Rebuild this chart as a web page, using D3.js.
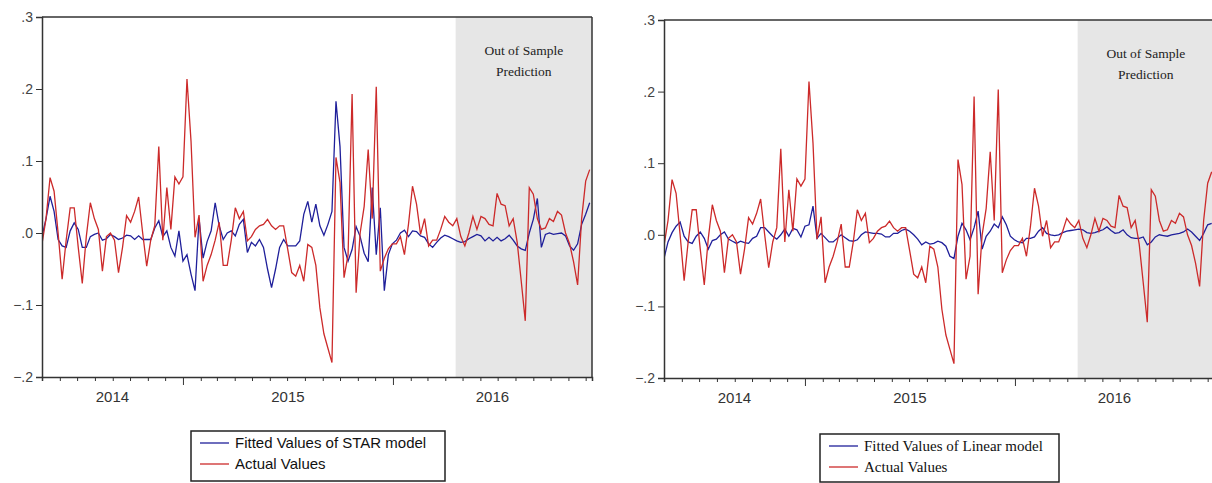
<!DOCTYPE html>
<html>
<head>
<meta charset="utf-8">
<script src="https://cdn.jsdelivr.net/npm/d3@7"></script>
<style>
  body { margin: 0; background: #fff; }
  svg { display: block; }
</style>
</head>
<body>
<div id="chart"></div>
<script>
// weekly series, first week starts 1 May 2014
var startDate = new Date(2014, 4, 1);
var endDate = new Date(2016, 11, 12);
var forecastStart = new Date(2016, 3, 19);

var yTicks = [0.3, 0.2, 0.1, 0, -0.1, -0.2];
var years = [2014, 2015, 2016];
var forecastLabel = ["Out of Sample", "Prediction"];

var actualValues = [
  -0.015, 0.02, 0.077, 0.058, 0.0, -0.064, -0.01, 0.035, 0.035, -0.02,
  -0.07, -0.005, 0.042, 0.02, 0.005, -0.053, -0.005, 0.0, -0.01, -0.055,
  -0.02, 0.024, 0.015, 0.03, 0.05, 0.0, -0.046, -0.01, 0.01, 0.12,
  -0.01, 0.063, 0.005, 0.078, 0.068, 0.078, 0.214, 0.128, -0.006, 0.025,
  -0.067, -0.045, -0.03, -0.01, 0.015, -0.045, -0.045, -0.01, 0.035, 0.02,
  0.03, -0.011, -0.005, 0.005, 0.01, 0.012, 0.019, 0.01, 0.005, 0.01,
  0.01, -0.022, -0.055, -0.06, -0.045, -0.067, -0.016, -0.02, -0.045, -0.104,
  -0.14, -0.16, -0.18, 0.105, 0.07, -0.062, -0.03, 0.193, -0.083, 0.0,
  0.037, 0.116, 0.02, 0.203, -0.053, -0.035, -0.022, -0.015, -0.015, -0.005,
  -0.03, 0.012, 0.065, 0.04, -0.002, 0.02, -0.018, -0.01, -0.01, 0.005,
  0.023, 0.015, 0.01, 0.02, -0.005, -0.018, 0.0, 0.023, 0.005, 0.023,
  0.02, 0.012, 0.01, 0.055, 0.04, 0.038, 0.01, 0.02, -0.013, -0.067,
  -0.122, 0.063, 0.054, 0.02, 0.005, 0.007, 0.02, 0.016, 0.03, 0.025,
  0.0, -0.015, -0.04, -0.072, 0.02, 0.072, 0.088
];

var starFitted = [
  -0.005, 0.02, 0.051, 0.03, -0.009, -0.018, -0.02, 0.003, 0.014, 0.005,
  -0.02, -0.02, -0.005, -0.002, 0.0, -0.01, -0.008, -0.002, -0.005, -0.009,
  -0.007, -0.003, -0.004, -0.009, -0.004, -0.009, -0.009, -0.009, 0.007, 0.017,
  -0.005, 0.003, -0.02, -0.032, 0.003, -0.039, -0.03, -0.057, -0.08, 0.02,
  -0.035, -0.012, 0.003, 0.042, 0.01, -0.009, 0.0, 0.003, -0.004, 0.012,
  0.019, -0.027, -0.013, -0.018, -0.009, -0.02, -0.05, -0.076, -0.05, -0.02,
  -0.009, -0.018, -0.018, -0.018, -0.011, 0.026, 0.044, 0.015, 0.04, 0.01,
  -0.003, 0.012, 0.03, 0.183, 0.12, -0.02, -0.039, -0.023, 0.009, -0.005,
  -0.028, -0.04, 0.063, -0.03, 0.035, -0.08, -0.03, -0.015, -0.01, 0.0,
  0.004, -0.005, 0.003, 0.002, -0.004, -0.006, -0.015, -0.02, -0.013, -0.007,
  -0.003, -0.005, -0.008, -0.011, -0.013, -0.012, -0.008, -0.005, -0.002, -0.004,
  -0.011, -0.006, -0.011, -0.006, -0.011, -0.008, -0.003, -0.01, -0.018, -0.022,
  -0.024, 0.0, 0.019, 0.048, -0.02, -0.002, 0.0, -0.002, -0.001, 0.0,
  -0.004, -0.018, -0.024, -0.015, 0.012, 0.026, 0.042
];

var linearFitted = [
  -0.033, -0.01, 0.003, 0.012, 0.018, -0.002, -0.01, -0.012, -0.002, 0.004,
  -0.005, -0.02, -0.008, -0.006, 0.0, 0.004, -0.006, -0.009, -0.012, -0.009,
  -0.011, -0.012, -0.005, -0.002, 0.01, 0.01, 0.004, -0.002, -0.006, 0.0,
  0.008, -0.002, 0.009, 0.007, -0.003, 0.012, 0.014, 0.04, -0.005, 0.002,
  -0.004, -0.01, -0.01, -0.005, 0.0, -0.004, -0.008, -0.009, -0.007, 0.0,
  0.004, 0.003, 0.002, 0.002, 0.001, -0.003, -0.003, 0.002, 0.002, 0.006,
  0.008, 0.005, 0.0, -0.006, -0.014, -0.01, -0.013, -0.012, -0.009, -0.011,
  -0.016, -0.03, -0.033, -0.002, 0.016, 0.007, -0.007, 0.01, 0.033, -0.02,
  -0.002, 0.005, 0.015, 0.01, 0.025, 0.014, -0.002, -0.007, -0.01, -0.011,
  -0.005, -0.005, -0.003, 0.005, 0.01, 0.002, 0.0, -0.001, 0.0, 0.003,
  0.005, 0.006, 0.007, 0.008, 0.007, 0.003, 0.002, 0.003, 0.005, 0.007,
  0.011, 0.006, 0.002, 0.003, 0.007, 0.0, -0.004, -0.005, -0.005, -0.003,
  -0.014, -0.01, -0.003, 0.0, -0.001, -0.002, 0.0, 0.001, 0.002, 0.004,
  0.008, 0.004, -0.002, -0.008, 0.002, 0.014, 0.016
];

var weeks = actualValues.map(function (d, i) { return d3.timeWeek.offset(startDate, i); });

var blue = "#1f1f9a", red = "#cc2a2a";

var panels = [
  {left: 42, top: 17, width: 550, height: 360, fitted: starFitted,
   legend: {x: 191, y: 431, w: 254, h: 50, font: "'Liberation Sans', Arial, sans-serif", size: 15,
            labels: ["Fitted Values of STAR model", "Actual Values"]}},
  {left: 664, top: 20, width: 550, height: 358, fitted: linearFitted,
   legend: {x: 820, y: 434, w: 239, h: 48, font: "'Liberation Serif', 'Times New Roman', serif", size: 15,
            labels: ["Fitted Values of Linear model", "Actual Values"]}}
];

var svg = d3.select("#chart").append("svg")
    .attr("width", 1212)
    .attr("height", 483);

function fmtY(d) {
    if (d === 0) return ".0";
    return d3.format(".1f")(d).replace("0.", ".");
}

panels.forEach(function (p, k) {
    var x = d3.scaleTime().domain([startDate, endDate]).range([0, p.width]);
    var y = d3.scaleLinear().domain([-0.2, 0.3]).range([p.height, 0]);

    var g = svg.append("g")
        .attr("transform", "translate(" + p.left + "," + p.top + ")");

    var clipId = "clip" + k;
    g.append("clipPath").attr("id", clipId)
        .append("rect").attr("width", p.width).attr("height", p.height);

    // shaded forecast area
    g.append("rect")
        .attr("x", x(forecastStart))
        .attr("y", 0)
        .attr("width", p.width - x(forecastStart))
        .attr("height", p.height)
        .style("fill", "#e6e6e6");

    g.selectAll("text.oos")
        .data(forecastLabel)
        .enter().append("text")
        .attr("x", (x(forecastStart) + p.width) / 2)
        .attr("y", function (d, i) { return 38 + i * 21; })
        .attr("text-anchor", "middle")
        .style("font-family", "'Liberation Serif', 'Times New Roman', serif")
        .style("font-size", "13.5px")
        .style("fill", "#222")
        .text(function (d) { return d; });

    var line = d3.line()
        .x(function (d, i) { return x(weeks[i]); })
        .y(function (d) { return y(d); });

    var lines = g.append("g").attr("clip-path", "url(#" + clipId + ")");
    lines.append("path")
        .datum(p.fitted)
        .attr("d", line)
        .style("fill", "none")
        .style("stroke", blue)
        .style("stroke-width", 1.3);
    lines.append("path")
        .datum(actualValues)
        .attr("d", line)
        .style("fill", "none")
        .style("stroke", red)
        .style("stroke-width", 1.3);

    // frame
    g.append("line").attr("x1", 0).attr("x2", p.width).attr("y1", 0).attr("y2", 0)
        .style("stroke", "#333").style("stroke-width", 1.5);
    g.append("line").attr("x1", p.width).attr("x2", p.width).attr("y1", 0).attr("y2", p.height)
        .style("stroke", "#333").style("stroke-width", 1.5);

    var yAxis = g.append("g")
        .call(d3.axisLeft(y).tickValues(yTicks).tickFormat(fmtY).tickSize(6).tickPadding(3));
    yAxis.select(".domain").style("stroke", "#333").style("stroke-width", 1.5);
    yAxis.selectAll(".tick line").style("stroke", "#333");
    yAxis.selectAll("text")
        .style("font-family", "'Liberation Sans', Arial, sans-serif")
        .style("font-size", "14px")
        .style("fill", "#444");

    var xAxis = g.append("g")
        .attr("transform", "translate(0," + p.height + ")")
        .call(d3.axisBottom(x).ticks(d3.timeMonth.every(1)).tickFormat("").tickSizeOuter(0).tickSize(4));
    xAxis.select(".domain").style("stroke", "#333").style("stroke-width", 1.5);
    xAxis.selectAll(".tick line")
        .style("stroke", "#333")
        .attr("y2", function (d) { return d.getMonth() === 0 ? 8 : 4; });

    years.forEach(function (yr) {
        var a = Math.max(x(new Date(yr, 0, 1)), 0);
        var b = Math.min(x(new Date(yr + 1, 0, 1)), p.width);
        g.append("text")
            .attr("x", (a + b) / 2)
            .attr("y", p.height + 25)
            .attr("text-anchor", "middle")
            .style("font-family", "'Liberation Sans', Arial, sans-serif")
            .style("font-size", "15px")
            .style("fill", "#333")
            .text(yr);
    });

    // legend
    var L = p.legend;
    var lg = svg.append("g").attr("transform", "translate(" + L.x + "," + L.y + ")");
    lg.append("rect")
        .attr("width", L.w).attr("height", L.h)
        .style("fill", "#fff").style("stroke", "#222").style("stroke-width", 1.5);
    var items = lg.selectAll("g.item")
        .data(L.labels)
        .enter().append("g")
        .attr("transform", function (d, i) { return "translate(0," + (12 + i * 21) + ")"; });
    items.append("line")
        .attr("x1", 9).attr("x2", 38).attr("y1", 0).attr("y2", 0)
        .style("stroke", function (d, i) { return i === 0 ? blue : red; })
        .style("stroke-width", 1.3);
    items.append("text")
        .attr("x", 44).attr("y", 5)
        .style("font-family", L.font)
        .style("font-size", L.size + "px")
        .style("fill", "#111")
        .text(function (d) { return d; });
});
</script>
</body>
</html>
